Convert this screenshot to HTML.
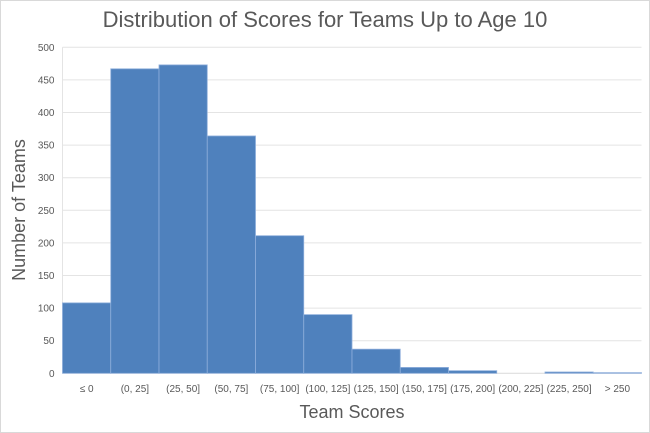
<!DOCTYPE html>
<html><head><meta charset="utf-8"><style>
body{margin:0;background:#fff}
svg{display:block;font-family:"Liberation Sans",sans-serif}
</style></head><body>
<svg width="650" height="433" viewBox="0 0 650 433">
<rect x="0.5" y="0.5" width="649" height="432" fill="#fff" stroke="#d9d9d9"/>
<text x="325" y="27" text-anchor="middle" font-size="22" fill="#595959">Distribution of Scores for Teams Up to Age 10</text>
<g id="grid"></g>
<g id="bars"></g>
<g id="yticks"></g>
<g id="xticks"></g>
<text transform="translate(25,210) rotate(-90)" text-anchor="middle" font-size="18" fill="#595959">Number of Teams</text>
<text x="352" y="418" text-anchor="middle" font-size="18" fill="#595959">Team Scores</text>
</svg>
<script>
const categories = ["≤ 0","(0, 25]","(25, 50]","(50, 75]","(75, 100]","(100, 125]","(125, 150]","(150, 175]","(175, 200]","(200, 225]","(225, 250]","> 250"];
const counts = [108, 467, 473, 364, 211, 90, 37, 9, 4, 0, 2, 1];
const yTicks = [0, 50, 100, 150, 200, 250, 300, 350, 400, 450, 500];
const NS = "http://www.w3.org/2000/svg";
const L = 62.5, R = 641.5, T = 47.3, B = 373.3, yMax = 500;
const y = v => B - (v / yMax) * (B - T);
const bw = (R - L) / categories.length;
const x = i => L + i * bw;
const mk = (tag, attrs, parent) => { const e = document.createElementNS(NS, tag); for (const k in attrs) e.setAttribute(k, attrs[k]); parent.appendChild(e); return e; };
const grid = document.getElementById('grid'), bars = document.getElementById('bars'), yt = document.getElementById('yticks'), xt = document.getElementById('xticks');
yTicks.forEach(v => {
  const ln = mk('line', {x1: L, x2: R, y1: y(v), y2: y(v), stroke: v === 0 ? '#d9d9d9' : '#e4e4e4', 'stroke-width': 1}, grid);
  
  
  const t = mk('text', {x: L - 8, y: y(v) + 3.5, 'text-anchor': 'end', 'font-size': 10, fill: '#595959'}, yt);
  t.textContent = v;
  
  
});
mk('line', {x1: L, x2: L, y1: T, y2: B, stroke: '#e4e4e4'}, grid);
counts.forEach((c, i) => {
  const r = mk('rect', {x: x(i), y: y(c), width: bw, height: B - y(c), fill: '#4f81bd', stroke: '#8eaedb', 'stroke-width': 0.8}, bars);
  
  
  const t = mk('text', {x: x(i) + bw / 2, y: 392, 'text-anchor': 'middle', 'font-size': 10, fill: '#595959'}, xt);
  t.textContent = categories[i];
  
  
});
</script>
</body></html>
